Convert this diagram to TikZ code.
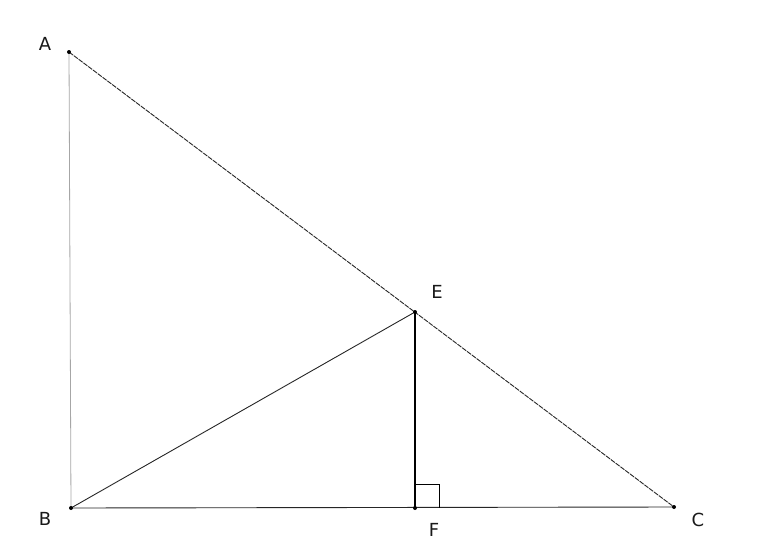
\documentclass[tikz,border=0pt]{standalone}
\usepackage{fontspec}
\setmainfont{DejaVu Sans}
\begin{document}
\begin{tikzpicture}[x=1pt,y=-1pt,
  seg/.style={line width=0.9pt,black!85},
  faint/.style={line width=0.8pt,black!35},
  dot/.style={circle,fill=black,inner sep=0pt,minimum size=4pt},
  lbl/.style={font=\fontsize{18}{20}\selectfont,inner sep=0pt,text=black!90}]
\useasboundingbox (0,0) rectangle (764,547);
\coordinate (A) at (69,52);
\coordinate (B) at (71,508);
\coordinate (C) at (674,507);
\coordinate (E) at (415,312);
\coordinate (F) at (415,508);
\draw[faint] (A) -- (B);
\draw[seg,dash pattern=on 5pt off 1pt] (A) -- (C);
\draw[seg] (B) -- (C);
\draw[seg] (B) -- (E);
\draw[line width=1.3pt] (E) -- (F);
\draw[line width=0.8pt] (415,484) -- (439,484) -- (439,508);
\node[dot] (pA) at (A) {};
\node[dot] (pB) at (B) {};
\node[dot] (pC) at (C) {};
\node[dot] (pE) at (E) {};
\node[dot] (pF) at (F) {};
\node[lbl] (lA) at (45,44) {A};
\node[lbl] (lB) at (45,519) {B};
\node[lbl] (lC) at (698,520) {C};
\node[lbl] (lE) at (437,292) {E};
\node[lbl] (lF) at (434,530) {F};
\end{tikzpicture}
\end{document}
